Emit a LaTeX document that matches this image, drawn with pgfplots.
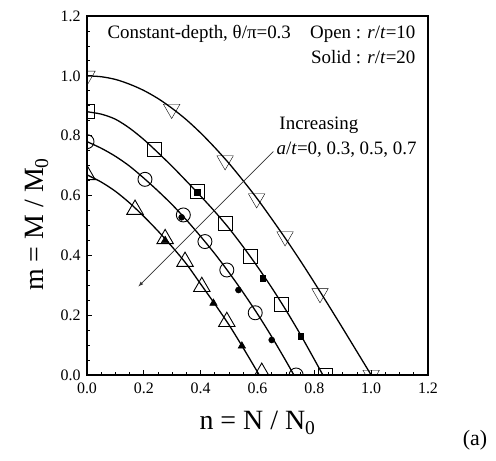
\documentclass[border=0pt]{standalone}
\usepackage{pgfplots}
\pgfplotsset{compat=1.18}
\usepackage{fontspec}
\setmainfont{Liberation Serif}

% open marks: r/t=10, filled marks: r/t=20
\pgfplotsset{
  curve/.style={black, line width=1.3pt, no marks, smooth},
  open/.style={only marks, mark options={draw=black, fill=white, line width=0.9pt}},
  solid/.style={only marks, mark options={draw=black, fill=black, line width=0.5pt}},
}

\begin{document}
\begin{tikzpicture}
\useasboundingbox (-87bp,-86bp) rectangle (409bp,375bp);
\begin{axis}[
    scale only axis,
    width=341bp, height=359bp,
    xmin=0, xmax=1.2, ymin=0, ymax=1.2,
    xtick={0,0.2,...,1.2}, ytick={0,0.2,...,1.2},
    minor x tick num=3, minor y tick num=3,
    tick pos=left, tick align=inside,
    major tick length=5bp, minor tick length=3.5bp,
    every tick/.style={black, line width=0.8pt},
    axis line style={line width=1.3pt},
    ticklabel style={font=\fontsize{16}{16}\selectfont},
    xticklabel shift=4bp, yticklabel shift=3bp,
    /pgf/number format/assume math mode=true,
    xticklabel style={/pgf/number format/.cd, fixed, fixed zerofill, precision=1},
    yticklabel style={/pgf/number format/.cd, fixed, fixed zerofill, precision=1},
    xlabel={n = N / N\textsubscript{0}},
    ylabel={m = M / M\textsubscript{0}},
    label style={font=\fontsize{28}{28}\selectfont},
    xlabel style={at={(axis description cs:0.5,-0.134)}, anchor=center},
    ylabel style={at={(axis description cs:-0.147,0.42)}, anchor=center},
    clip marker paths=true,
]
% a/t = 0
\addplot[curve] coordinates {
  (0,1.000) (0.05,0.997) (0.1,0.988) (0.15,0.972) (0.2,0.951) (0.25,0.924)
  (0.3,0.891) (0.35,0.853) (0.4,0.809) (0.45,0.760) (0.5,0.707) (0.55,0.649)
  (0.6,0.588) (0.65,0.522) (0.7,0.454) (0.75,0.383) (0.8,0.309) (0.85,0.233)
  (0.9,0.156) (0.95,0.078) (1.0,0)
};
\addplot[open, mark=triangle, mark size=9.5bp, mark options={rotate=180}] coordinates {
  (0,1.0) (0.298,0.889) (0.486,0.717) (0.597,0.590) (0.697,0.463) (0.82,0.273) (1.0,0)
};
% a/t = 0.3
\addplot[curve] coordinates {
  (0,0.880) (0.05,0.872) (0.1,0.855) (0.15,0.825) (0.2,0.787) (0.25,0.743)
  (0.3,0.697) (0.35,0.648) (0.4,0.598) (0.45,0.546) (0.5,0.490) (0.55,0.428)
  (0.6,0.362) (0.65,0.292) (0.7,0.217) (0.75,0.137) (0.8,0.052) (0.83,0)
};
\addplot[open, mark=square, mark size=7bp] coordinates {
  (0,0.88) (0.239,0.753) (0.39,0.612) (0.486,0.507) (0.574,0.396) (0.685,0.237) (0.84,0)
};
\addplot[solid, mark=square*, mark size=2.8bp] coordinates {
  (0.388,0.610) (0.619,0.323) (0.752,0.130)
};
% a/t = 0.5
\addplot[curve] coordinates {
  (0,0.780) (0.05,0.758) (0.1,0.731) (0.15,0.698) (0.2,0.658) (0.25,0.615)
  (0.3,0.569) (0.35,0.518) (0.4,0.463) (0.45,0.405) (0.5,0.342) (0.55,0.275)
  (0.6,0.204) (0.65,0.128) (0.7,0.047) (0.728,0)
};
\addplot[open, mark=o, mark size=7bp] coordinates {
  (0,0.78) (0.204,0.654) (0.339,0.535) (0.415,0.446) (0.492,0.351) (0.592,0.208) (0.736,0)
};
\addplot[solid, mark=*, mark size=3bp] coordinates {
  (0.333,0.527) (0.533,0.284) (0.65,0.117)
};
% a/t = 0.7
\addplot[curve] coordinates {
  (0,0.669) (0.05,0.645) (0.1,0.614) (0.15,0.575) (0.2,0.530) (0.25,0.481)
  (0.3,0.428) (0.35,0.371) (0.4,0.304) (0.45,0.237) (0.5,0.167) (0.55,0.090)
  (0.6,0.010) (0.606,0)
};
\addplot[open, mark=triangle, mark size=9.5bp] coordinates {
  (0,0.669) (0.169,0.553) (0.275,0.455) (0.345,0.379) (0.404,0.295) (0.492,0.178) (0.615,0.008)
};
\addplot[solid, mark=triangle*, mark size=4.3bp] coordinates {
  (0.275,0.450) (0.445,0.240) (0.545,0.097)
};
\draw[-latex, line width=0.7pt, black!80] (axis cs:0.656,0.747) -- (axis cs:0.181,0.296);
\node[anchor=west, font=\fontsize{19}{19}\selectfont] at (axis cs:0.06,1.14) {Constant-depth, θ/π=0.3};
\node[anchor=east, font=\fontsize{19}{19}\selectfont] at (axis cs:1.168,1.14) {Open : \textit{r}/\textit{t}=10};
\node[anchor=east, font=\fontsize{19}{19}\selectfont] at (axis cs:1.168,1.064) {Solid : \textit{r}/\textit{t}=20};
\node[anchor=west, font=\fontsize{19}{19}\selectfont] at (axis cs:0.665,0.836) {Increasing};
\node[anchor=west, font=\fontsize{19}{19}\selectfont] at (axis cs:0.655,0.753) {\textit{a}/\textit{t}=0, 0.3, 0.5, 0.7};
\end{axis}
\node[font=\fontsize{22}{22}\selectfont] at (388bp,-65bp) {(a)};
\end{tikzpicture}
\end{document}
